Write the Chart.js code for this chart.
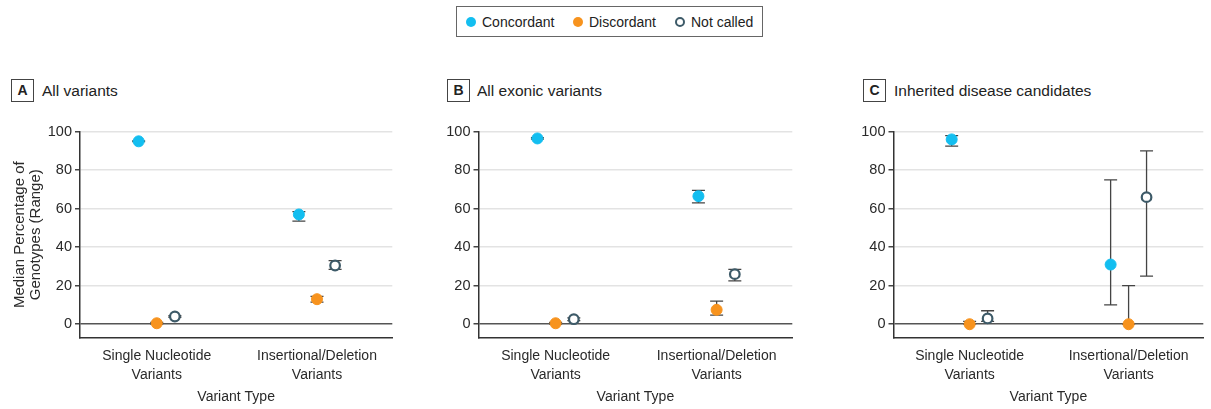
<!DOCTYPE html>
<html lang="en">
<head>
<meta charset="UTF-8">
<title>Genotype concordance by variant type</title>
<script src="https://cdn.jsdelivr.net/npm/chart.js"></script>
<style>
  body { margin: 0; width: 1211px; height: 409px; background: #fff; position: relative; overflow: hidden;
         font-family: "Liberation Sans", Arial, sans-serif; color: #222; }
  canvas { position: absolute; top: 110px; }
  .legend { position: absolute; left: 456px; top: 6px; width: 305px; height: 29px; border: 1.5px solid #666; }
  .dot { position: absolute; top: 17px; width: 10px; height: 10px; border-radius: 50%; box-sizing: border-box; }
  .ltxt { position: absolute; top: 13px; font-size: 14px; line-height: 18px; color: #222; }
  .tag { position: absolute; top: 79px; width: 21px; height: 21px; border: 1.3px solid #444; font-weight: bold;
         font-size: 14px; text-align: center; line-height: 21px; }
  .ptitle { position: absolute; top: 81px; font-size: 15.5px; line-height: 20px; }
</style>
</head>
<body>

<!-- legenda -->
<div class="legend"></div>
<span class="dot" style="left:466px; background:#13BEF0"></span>
<span class="ltxt" style="left:482px">Concordant</span>
<span class="dot" style="left:573px; background:#F7931E"></span>
<span class="ltxt" style="left:589px">Discordant</span>
<span class="dot" style="left:675px; border:2px solid #3D5A68; background:#fff"></span>
<span class="ltxt" style="left:691px">Not called</span>

<!-- títulos dos painéis -->
<div class="tag" style="left:11px">A</div>
<div class="ptitle" style="left:42px">All variants</div>
<div class="tag" style="left:447px">B</div>
<div class="ptitle" style="left:477px">All exonic variants</div>
<div class="tag" style="left:863px">C</div>
<div class="ptitle" style="left:894px">Inherited disease candidates</div>

<canvas id="chartA" width="400" height="299" style="left:0px"></canvas>
<canvas id="chartB" width="400" height="299" style="left:400px"></canvas>
<canvas id="chartC" width="396" height="299" style="left:815px"></canvas>

<script>
    const categories = [['Single Nucleotide', 'Variants'], ['Insertional/Deletion', 'Variants']]
    const seriesNames = ['Concordant', 'Discordant', 'Not called']
    const yTicks = [0, 20, 40, 60, 80, 100]

    // [serie][categoria] -> concordant, discordant, not called
    const allMedian = [[95, 57], [0.5, 13], [4, 30.5]]
    const allLow = [[94.8, 53.5], [0, 11.5], [3.6, 28.5]]
    const allHigh = [[95.2, 58.5], [1, 14.5], [4.4, 33]]

    const exonMedian = [[96.5, 66.5], [0.5, 7.5], [2.6, 26]]
    const exonLow = [[96.1, 63], [0.1, 4.7], [1.9, 22.5]]
    const exonHigh = [[96.9, 69.5], [0.9, 12], [3.3, 28.5]]

    const inhMedian = [[96, 31], [0, 0], [3, 66]]
    const inhLow = [[92.5, 10], [0, 0], [1.5, 25]]
    const inhHigh = [[98, 75], [1.5, 20], [7, 90]]

    const seriesOffset = [-0.113, 0, 0.113]
    const fam = '"Liberation Sans", Arial, sans-serif'

    // barras de erro (range) desenhadas por baixo dos pontos
    const errorBars = {
        id: 'errorBars',
        beforeDatasetsDraw(chart) {
            const ctx = chart.ctx
            const x = chart.scales.x
            const y = chart.scales.y
            ctx.save()
            ctx.strokeStyle = '#444'
            ctx.lineWidth = 1.3
            chart.data.datasets.forEach(function (ds) {
                ds.data.forEach(function (p) {
                    const px = x.getPixelForValue(p.x)
                    const lo = y.getPixelForValue(p.low)
                    const hi = y.getPixelForValue(p.high)
                    ctx.beginPath()
                    ctx.moveTo(px, lo); ctx.lineTo(px, hi)
                    ctx.moveTo(px - 6.5, lo); ctx.lineTo(px + 6.5, lo)
                    ctx.moveTo(px - 6.5, hi); ctx.lineTo(px + 6.5, hi)
                    ctx.stroke()
                })
            })
            ctx.restore()
        }
    }

    const pointStyles = [
        { backgroundColor: '#13BEF0', borderColor: '#13BEF0', borderWidth: 1, pointRadius: 5.5 },
        { backgroundColor: '#F7931E', borderColor: '#F7931E', borderWidth: 1, pointRadius: 5.5 },
        { backgroundColor: '#ffffff', borderColor: '#3D5A68', borderWidth: 2.2, pointRadius: 4.8 }
    ]

    function plotarPainel(id, median, low, high, yTitle, yWidth, rightPad) {
        const datasets = seriesNames.map(function (name, s) {
            return Object.assign({
                label: name,
                data: categories.map(function (c, i) {
                    return { x: i + 1 + seriesOffset[s], y: median[s][i], low: low[s][i], high: high[s][i] }
                }),
                pointHoverRadius: 5.5,
                clip: false
            }, pointStyles[s])
        })

        return new Chart(document.getElementById(id), {
            type: 'scatter',
            data: { datasets: datasets },
            plugins: [errorBars],
            options: {
                responsive: false,
                animation: false,
                layout: { padding: { top: 21.7, right: rightPad, left: 0, bottom: 0 } },
                plugins: { legend: { display: false }, tooltip: { enabled: false } },
                scales: {
                    x: {
                        type: 'linear',
                        min: 0.521,
                        max: 2.47,
                        afterBuildTicks: function (s) { s.ticks = categories.map(function (c, i) { return { value: i + 1 } }) },
                        afterFit: function (s) { s.height = 71.3 },
                        ticks: {
                            callback: function (v, i) { return categories[i] },
                            color: '#2a2a2a',
                            font: { family: fam, size: 14, lineHeight: 1.35 },
                            padding: 9,
                            maxRotation: 0,
                            autoSkip: false
                        },
                        grid: { display: false, drawTicks: false },
                        border: { display: true, color: '#333', width: 1.5 },
                        title: {
                            display: true, text: 'Variant Type', color: '#2a2a2a',
                            font: { family: fam, size: 14 }, padding: { top: 0, bottom: 3 }
                        }
                    },
                    y: {
                        min: -7,
                        max: 100,
                        afterBuildTicks: function (s) { s.ticks = yTicks.map(function (v) { return { value: v } }) },
                        afterFit: function (s) { s.width = yWidth },
                        ticks: { color: '#2a2a2a', font: { family: fam, size: 14.5 }, padding: 3 },
                        grid: {
                            color: function (c) { return c.tick && c.tick.value === 0 ? '#555' : '#e3e3e3' },
                            lineWidth: 1.5,
                            tickColor: '#444',
                            tickLength: 5
                        },
                        border: { display: true, color: '#333', width: 1.5 },
                        title: {
                            display: !!yTitle, text: yTitle || '', color: '#2a2a2a',
                            font: { family: fam, size: 15, lineHeight: 1.08 }, padding: { top: 11.5, bottom: 0 }
                        }
                    }
                }
            }
        })
    }

    plotarPainel('chartA', allMedian, allLow, allHigh, ['Median Percentage of', 'Genotypes (Range)'], 80, 5)
    plotarPainel('chartB', exonMedian, exonLow, exonHigh, null, 78.5, 6.5)
    plotarPainel('chartC', inhMedian, inhLow, inhHigh, null, 78.5, 2.5)
</script>
</body>
</html>
